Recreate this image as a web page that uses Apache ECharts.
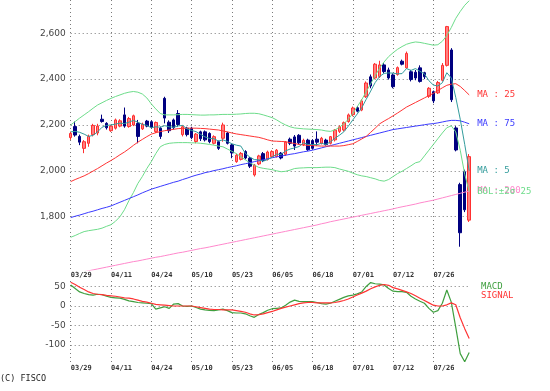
<!DOCTYPE html>
<html>
<head>
<meta charset="utf-8">
<script src="https://cdn.jsdelivr.net/npm/echarts@6/dist/echarts.min.js"></script>
<style>html,body{margin:0;padding:0;background:#fff}#c{width:550px;height:391px}</style>
</head>
<body>
<div id="c"></div>
<script>
const dates = ["03/29","04/01","04/02","04/03","04/04","04/05","04/08","04/09","04/10","04/11","04/12","04/15","04/16","04/17","04/18","04/19","04/22","04/23","04/24","04/25","04/26","04/30","05/01","05/02","05/07","05/08","05/09","05/10","05/13","05/14","05/15","05/16","05/17","05/20","05/21","05/22","05/23","05/24","05/27","05/28","05/29","05/30","05/31","06/03","06/04","06/05","06/06","06/07","06/10","06/11","06/12","06/13","06/14","06/17","06/18","06/19","06/20","06/21","06/24","06/25","06/26","06/27","06/28","07/01","07/02","07/03","07/04","07/05","07/08","07/09","07/10","07/11","07/12","07/16","07/17","07/18","07/19","07/22","07/23","07/24","07/25","07/26","07/29","07/30","07/31","08/01","08/02","08/05","08/06","08/07"];

const openP  = [2145,2193,2150,2098,2120,2158,2165,2225,2207,2175,2186,2195,2244,2193,2200,2207,2183,2217,2214,2171,2186,2316,2212,2222,2250,2158,2186,2186,2128,2170,2170,2163,2120,2127,2142,2165,2113,2040,2050,2084,2055,1982,2030,2075,2050,2062,2062,2077,2072,2138,2148,2155,2113,2134,2132,2138,2120,2134,2120,2135,2172,2178,2215,2245,2275,2265,2323,2410,2405,2411,2462,2440,2418,2420,2478,2449,2432,2430,2449,2428,2325,2345,2340,2395,2460,2527,2187,1940,1996,1785];
const closeP = [2163,2156,2125,2127,2150,2198,2195,2215,2188,2195,2222,2218,2195,2228,2240,2150,2203,2195,2190,2211,2150,2230,2175,2188,2202,2192,2158,2145,2160,2140,2135,2127,2149,2098,2200,2120,2078,2068,2076,2056,2020,2025,2065,2045,2082,2084,2090,2056,2125,2120,2108,2122,2133,2092,2098,2125,2142,2115,2149,2178,2192,2210,2244,2274,2260,2305,2383,2370,2465,2462,2433,2405,2367,2450,2465,2512,2398,2405,2390,2410,2360,2305,2385,2460,2629,2310,2091,1730,1830,2062];
const lowP   = [2135,2149,2112,2077,2105,2150,2155,2210,2180,2170,2180,2190,2188,2188,2195,2120,2178,2190,2185,2165,2139,2207,2165,2180,2193,2150,2150,2138,2120,2130,2128,2120,2115,2091,2127,2115,2055,2035,2045,2050,2012,1975,2025,2038,2045,2058,2058,2050,2065,2112,2091,2115,2108,2087,2092,2110,2115,2110,2115,2128,2165,2172,2210,2238,2255,2260,2318,2360,2400,2405,2425,2398,2360,2415,2460,2445,2390,2395,2385,2400,2318,2295,2335,2390,2455,2300,2085,1669,1820,1777];
const highP  = [2171,2215,2158,2134,2158,2205,2205,2245,2212,2200,2228,2225,2276,2235,2245,2222,2210,2222,2220,2215,2193,2323,2220,2228,2265,2198,2192,2192,2165,2175,2176,2168,2155,2132,2210,2170,2118,2075,2082,2090,2060,2030,2070,2082,2088,2090,2095,2082,2130,2145,2156,2160,2140,2140,2138,2172,2148,2140,2152,2182,2198,2215,2250,2280,2282,2312,2390,2420,2470,2480,2470,2450,2425,2455,2485,2520,2440,2440,2460,2432,2365,2350,2392,2470,2632,2535,2195,1948,2005,2073];

const ma5   = [2170,2172,2168,2160,2150,2155,2170,2190,2198,2200,2204,2208,2206,2212,2220,2212,2203,2198,2188,2192,2190,2197,2192,2190,2196,2198,2183,2176,2171,2159,2148,2141,2140,2130,2135,2128,2118,2112,2108,2076,2060,2049,2048,2042,2049,2060,2073,2071,2087,2095,2100,2106,2122,2115,2115,2114,2120,2115,2126,2142,2155,2170,2195,2222,2248,2275,2312,2348,2385,2412,2425,2427,2426,2423,2424,2446,2438,2446,2434,2423,2393,2374,2370,2384,2428,2405,2320,2225,2115,2000];
const ma25  = [1953,1962,1970,1978,1988,1999,2010,2022,2034,2045,2057,2070,2082,2096,2111,2125,2137,2149,2160,2166,2171,2175,2178,2181,2184,2185,2186,2186,2186,2185,2184,2182,2180,2178,2174,2170,2165,2161,2158,2155,2152,2149,2146,2141,2135,2130,2129,2128,2127,2123,2119,2115,2113,2111,2110,2109,2108,2108,2108,2108,2108,2110,2114,2118,2128,2139,2150,2168,2186,2205,2217,2228,2240,2252,2265,2278,2288,2298,2308,2318,2328,2338,2350,2362,2373,2378,2380,2368,2350,2331];
const ma75  = [1796,1802,1807,1813,1819,1824,1830,1836,1841,1847,1855,1863,1871,1879,1887,1895,1904,1912,1920,1926,1932,1938,1944,1950,1955,1962,1968,1975,1981,1986,1992,1996,2001,2005,2009,2014,2018,2022,2027,2031,2035,2040,2044,2048,2053,2057,2061,2064,2068,2072,2075,2079,2083,2086,2090,2095,2100,2105,2110,2115,2120,2125,2130,2135,2140,2145,2150,2155,2160,2165,2170,2175,2180,2183,2186,2189,2192,2195,2198,2201,2204,2206,2209,2213,2217,2220,2220,2218,2212,2205];
const ma200 = [1548,1552,1556,1560,1564,1568,1572,1576,1580,1584,1588,1592,1596,1600,1604,1607,1611,1615,1619,1623,1626,1630,1634,1638,1642,1645,1649,1653,1657,1661,1664,1668,1672,1676,1680,1684,1688,1692,1696,1700,1704,1708,1712,1716,1720,1724,1728,1732,1736,1740,1744,1748,1752,1756,1760,1764,1769,1773,1778,1782,1786,1790,1794,1798,1802,1806,1810,1814,1818,1822,1826,1830,1834,1839,1843,1847,1851,1855,1860,1864,1868,1872,1877,1882,1887,1892,1897,1902,1907,1912];
const bolUp = [2200,2215,2230,2244,2258,2273,2287,2297,2307,2316,2324,2331,2338,2343,2346,2343,2335,2318,2292,2270,2250,2244,2244,2244,2245,2246,2246,2245,2244,2243,2243,2244,2244,2245,2246,2246,2246,2247,2248,2250,2251,2251,2249,2244,2238,2232,2222,2210,2200,2192,2187,2185,2183,2182,2181,2180,2178,2174,2172,2178,2190,2205,2225,2250,2280,2310,2345,2380,2415,2448,2475,2498,2515,2530,2542,2552,2558,2562,2560,2556,2552,2548,2550,2565,2590,2625,2665,2695,2722,2742];
const bolLo = [1710,1718,1727,1735,1739,1742,1745,1750,1758,1765,1780,1800,1830,1870,1905,1945,1975,2010,2040,2075,2105,2115,2120,2122,2123,2123,2123,2122,2122,2120,2118,2115,2112,2108,2105,2095,2085,2075,2062,2048,2035,2025,2015,2011,2008,2005,2000,1996,1998,2003,2010,2012,2013,2014,2014,2014,2015,2016,2016,2014,2008,2003,1998,1990,1983,1978,1975,1970,1965,1958,1955,1962,1975,1988,1998,2010,2022,2035,2040,2065,2090,2115,2140,2165,2188,2196,2170,2090,1985,1910];

const macd   = [54,45,36,32,29,28,30,29,25,22,21,20,17,13,11,9,8,7,6,-8,-5,-2,-6,5,6,0,-1,0,-4,-8,-10,-11,-12,-10,-8,-12,-17,-18,-18,-20,-25,-29,-22,-17,-11,-7,-6,-5,2,10,15,12,11,11,11,9,6,5,7,12,17,22,26,28,31,36,50,60,57,56,54,45,38,37,37,35,25,18,12,7,-6,-16,-12,7,41,10,-55,-122,-143,-119];
const signal = [61,55,48,42,36,32,30,29,27,26,25,23,21,20,18,15,12,10,7,4,3,2,1,0,0,0,0,0,-2,-4,-6,-8,-9,-9,-10,-10,-10,-12,-14,-16,-20,-23,-22,-20,-17,-14,-10,-6,-3,0,3,6,8,9,9,8,8,8,8,9,11,14,18,23,28,33,38,44,49,53,55,53,47,44,40,36,32,26,20,14,8,2,0,0,3,8,3,-30,-58,-83];

const priceTicks = [1800, 2000, 2200, 2400, 2600];
const macdTicks = [50, 0, -50, -100];

const candles = dates.map((d, i) => [openP[i], closeP[i], lowP[i], highP[i]]);

const MONO = 'DejaVu Sans Mono';
const gridDot = {color: '#7a7a7a', type: [1, 3], width: 1};
function comma(v){ return String(v).replace(/\B(?=(\d{3})+(?!\d))/g, ','); }

function xAxisFor(gi){
  return {
    type: 'category', gridIndex: gi, data: dates, boundaryGap: false,
    axisLine: {show: false}, axisTick: {show: false},
    axisLabel: {interval: 8, align: 'left', margin: 2, fontFamily: MONO, fontSize: 7, fontWeight: 'bold', color: '#333'},
    splitLine: {show: true, interval: 8, lineStyle: gridDot}
  };
}
function lineSeries(name, data, color, label, extra){
  const s = {
    name: name, type: 'line', xAxisIndex: 0, yAxisIndex: 0, data: data,
    showSymbol: false, smooth: false, lineStyle: {width: 1, color: color}, itemStyle: {color: color},
    emphasis: {disabled: true}, z: 3
  };
  if (label) s.endLabel = {show: true, formatter: label, color: color, fontFamily: MONO, fontSize: 9, distance: 8};
  return Object.assign(s, extra || {});
}

const chart = echarts.init(document.getElementById('c'), null, {renderer: 'canvas', width: 550, height: 391});
chart.setOption({
  backgroundColor: '#ffffff',
  animation: false,
  title: {text: '(C) FISCO', left: 0, top: 374, padding: 0,
    textStyle: {fontFamily: MONO, fontSize: 8.5, fontWeight: 'normal', color: '#222'}},
  legend: {orient: 'vertical', left: 476, top: 282.5, padding: 0, itemWidth: 0, itemHeight: 0, itemGap: 0,
    icon: 'rect', selectedMode: false,
    textStyle: {fontFamily: MONO, fontSize: 9},
    data: [{name: 'MACD', textStyle: {color: '#3f9f3f'}}, {name: 'SIGNAL', textStyle: {color: '#ff3333'}}]},
  grid: [
    {left: 70.7, width: 398.5, top: 0, height: 270},
    {left: 70.7, width: 398.5, top: 281, height: 81.6}
  ],
  xAxis: [xAxisFor(0), xAxisFor(1)],
  yAxis: [
    {type: 'value', gridIndex: 0, min: 1567.5, max: 2745, axisLine: {show: false}, axisTick: {show: false}, splitLine: {show: false},
      axisLabel: {customValues: priceTicks, formatter: comma, fontFamily: 'DejaVu Sans', fontSize: 9, color: '#444', margin: 5}},
    {type: 'value', gridIndex: 1, min: -145, max: 64, axisLine: {show: false}, axisTick: {show: false}, splitLine: {show: false},
      axisLabel: {customValues: macdTicks, fontFamily: 'DejaVu Sans', fontSize: 9, color: '#444', margin: 5}}
  ],
  series: [
    {name: 'Price', type: 'candlestick', xAxisIndex: 0, yAxisIndex: 0, data: candles, barWidth: 3, clip: false,
      itemStyle: {color: '#ff8080', color0: '#000080', borderColor: '#ff3030', borderColor0: '#000080', borderWidth: 1},
      emphasis: {disabled: true},
      markLine: {silent: true, symbol: ['none', 'none'], z: 1, label: {show: false}, lineStyle: gridDot,
        data: priceTicks.map(v => ({yAxis: v}))}},
    lineSeries('MA200', ma200, '#ff88cc', 'MA : 200'),
    lineSeries('BOLU', bolUp, '#6ddc8a', null),
    lineSeries('BOLL', bolLo, '#6ddc8a', 'BOL:±2σ 25'),
    lineSeries('MA75', ma75, '#3a3aff', 'MA : 75'),
    lineSeries('MA25', ma25, '#ff3333', 'MA : 25'),
    lineSeries('MA5', ma5, '#339c9c', 'MA : 5'),
    {name: 'MACD', type: 'line', xAxisIndex: 1, yAxisIndex: 1, data: macd, showSymbol: false,
      lineStyle: {width: 1.2, color: '#3f9f3f'}, itemStyle: {color: '#3f9f3f'}, emphasis: {disabled: true},
      markLine: {silent: true, symbol: ['none', 'none'], z: 1, label: {show: false}, lineStyle: gridDot,
        data: macdTicks.map(v => ({yAxis: v}))}},
    {name: 'SIGNAL', type: 'line', xAxisIndex: 1, yAxisIndex: 1, data: signal, showSymbol: false,
      lineStyle: {width: 1.2, color: '#ff3333'}, itemStyle: {color: '#ff3333'}, emphasis: {disabled: true}}
  ]
});
</script>
</body>
</html>
